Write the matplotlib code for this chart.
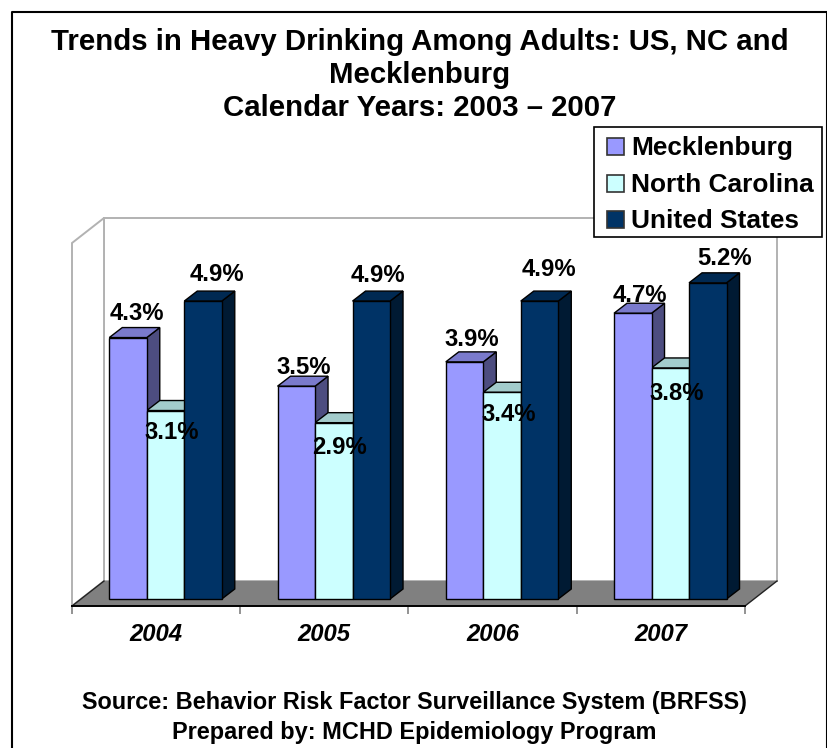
import matplotlib
matplotlib.use("Agg")
import matplotlib.pyplot as plt
from matplotlib.lines import Line2D
from matplotlib.patches import Polygon, Rectangle

plt.rcParams["font.family"] = ["Liberation Sans", "DejaVu Sans"]
plt.rcParams["font.weight"] = "bold"

years = ["2004", "2005", "2006", "2007"]
series = ["Mecklenburg", "North Carolina", "United States"]
mecklenburg = [4.3, 3.5, 3.9, 4.7]
north_carolina = [3.1, 2.9, 3.4, 3.8]
united_states = [4.9, 4.9, 4.9, 5.2]
values = [mecklenburg, north_carolina, united_states]

front = ["#9999FF", "#CCFFFF", "#003366"]
top = ["#7A7ACC", "#A3CCCC", "#002952"]
side = ["#4D4D80", "#668080", "#001A33"]

W, H = 828, 748
L, R, B, T = 72, 745, 606, 218
px_x = (R - L) / 4      # pixels per category
px_y = 60.8             # pixels per percent
wall_dx, wall_dy = 32 / px_x, 25 / px_y
bar_dx, bar_dy = 13 / px_x, 10 / px_y
bar_w = 37.5 / px_x
shift = 9.4 / px_x

# label offsets from the bar centre / top, in pixels (placed by hand in the original)
label_dx = [[9, 7, 7, 7], [6, 6, 7, 6], [14, 7, 9, 17]]
label_dy = [[24, 19, 22, 18], [-22, -25, -22, -26], [27, 26, 32, 24]]

fig = plt.figure(figsize=(W / 100, H / 100), dpi=100)
ax = fig.add_axes([L / W, 1 - B / H, (R - L) / W, (B - T) / H])
ax.set_xlim(-0.5, 3.5)
ymin = -(B - 599) / px_y
ax.set_ylim(ymin, ymin + (B - T) / px_y)
ax.patch.set_visible(False)

# walls and floor
x0, x1 = -0.5, 3.5
ax.add_patch(Polygon([(x0 + wall_dx, ymin + wall_dy), (x0 + wall_dx, ymin + (B - T) / px_y),
                      (x1 + wall_dx, ymin + (B - T) / px_y), (x1 + wall_dx, ymin + wall_dy)],
                     fc="white", ec="#B2B2B2", lw=1.4, clip_on=False, zorder=1))
ax.add_patch(Polygon([(x0, ymin), (x0, ymin + (B - T - 25) / px_y),
                      (x0 + wall_dx, ymin + (B - T) / px_y), (x0 + wall_dx, ymin + wall_dy)],
                     fc="white", ec="#B2B2B2", lw=1.4, clip_on=False, zorder=1))
ax.add_patch(Polygon([(x0, ymin), (x1, ymin), (x1 + wall_dx, ymin + wall_dy), (x0 + wall_dx, ymin + wall_dy)],
                     fc="#808080", ec="none", clip_on=False, zorder=2))
# only the two slanted floor edges are dark
for xa in [x0, x1]:
    ax.plot([xa, xa + wall_dx], [ymin, ymin + wall_dy], color="#222222", lw=1.0, clip_on=False, zorder=2)

# bars
for s, vals in enumerate(values):
    for i, v in enumerate(vals):
        a = i + shift + (s - 1.5) * bar_w
        b = a + bar_w
        ax.add_patch(Polygon([(b, 0), (b + bar_dx, bar_dy), (b + bar_dx, v + bar_dy), (b, v)],
                             fc=side[s], ec="black", lw=1.0, clip_on=False, zorder=3 + s))
        ax.add_patch(Polygon([(a, v), (b, v), (b + bar_dx, v + bar_dy), (a + bar_dx, v + bar_dy)],
                             fc=top[s], ec="black", lw=1.0, clip_on=False, zorder=3 + s))
    xs = [i + shift + (s - 1) * bar_w for i in range(4)]
    ax.bar(xs, vals, bar_w, color=front[s], edgecolor="black", lw=1.0, zorder=7, clip_on=False)
    for i, v in enumerate(vals):
        ax.text(xs[i] + label_dx[s][i] / px_x, v + label_dy[s][i] / px_y, f"{v}%",
                ha="center", va="center", fontsize=17.2, zorder=8)

# axis
for name in ["top", "left", "right"]:
    ax.spines[name].set_visible(False)
ax.spines["bottom"].set_linewidth(1.4)
ax.spines["bottom"].set_zorder(6)
ax.set_yticks([])
ax.set_xticks([-0.5, 0.5, 1.5, 2.5, 3.5], labels=[])
ax.set_xticks(range(4), labels=years, minor=True)
ax.tick_params(axis="x", which="major", length=6, width=1.2, color="#808080")
ax.tick_params(axis="x", which="minor", length=0, pad=12)
for lab in ax.get_xticklabels(minor=True):
    lab.set_fontsize(17.2)
    lab.set_fontstyle("italic")
    lab.set_fontweight("bold")


def text_px(x, y, s, size, **kw):
    fig.text(x / W, 1 - y / H, s, fontsize=size, zorder=21, **{"ha": "center", "va": "center", **kw})


def rect_px(x0, y0, x1, y1, **kw):
    fig.add_artist(Rectangle((x0 / W, 1 - y1 / H), (x1 - x0) / W, (y1 - y0) / H,
                             transform=fig.transFigure, **kw))


# legend, boxed by hand so rows and padding land where the original has them
rect_px(594, 127, 822, 237, fc="white", ec="black", lw=1.2, zorder=20)
for name, color, y in zip(series, front, [147, 183.5, 219.5]):
    rect_px(607, y - 9, 624, y + 8, fc=color, ec="#333333", lw=1.2, zorder=21)
    text_px(631, y + 8.5, name, 18.9, ha="left", va="baseline")

# title and notes
text_px(420, 42, "Trends in Heavy Drinking Among Adults: US, NC and", 21.2)
text_px(420, 75, "Mecklenburg", 21.2)
text_px(420, 108, "Calendar Years: 2003 – 2007", 21.2)
text_px(414, 702, "Source: Behavior Risk Factor Surveillance System (BRFSS)", 16.95)
text_px(414, 733, "Prepared by: MCHD Epidemiology Program", 16.95)

# outer frame, open at the bottom edge of the picture
fig.add_artist(Line2D([12.5 / W, 12.5 / W, 827 / W, 827 / W], [0, 1 - 11.5 / H, 1 - 11.5 / H, 0], color="black", lw=1.5))

fig.savefig("out.png", dpi=100)
